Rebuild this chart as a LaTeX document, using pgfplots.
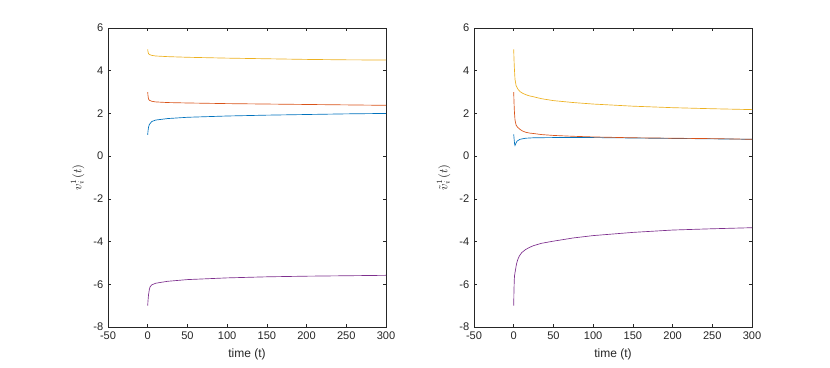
\documentclass[border=0pt]{standalone}
\usepackage{pgfplots}
\pgfplotsset{compat=1.18}
\usepackage{fontspec}
\setmainfont{Liberation Sans}
\definecolor{mblue}{HTML}{0072BD}
\definecolor{mred}{HTML}{D95319}
\definecolor{myellow}{HTML}{EDB120}
\definecolor{mpurple}{HTML}{7E2F8E}
\definecolor{axgray}{HTML}{262626}
\pgfplotsset{
  mlaxis/.style={
    scale only axis, width=208.5pt, height=224.25pt,
    xmin=-50, xmax=300, ymin=-8, ymax=6,
    xtick={-50,0,...,300}, ytick={-8,-6,...,6},
    axis line style={axgray, line width=0.4pt},
    tick style={axgray, line width=0.4pt},
    tick align=inside, major tick length=2.5pt,
    tick label style={font=\fontsize{8.3}{10}\selectfont, text=axgray},
    label style={font=\fontsize{9}{11}\selectfont, text=axgray},
    /pgf/number format/assume math mode=true,
    xlabel={time (t)},
    every axis plot/.append style={line width=0.5pt},
    clip=true,
  }
}
\begin{document}
\begin{tikzpicture}[x=1pt,y=1pt]
\path[use as bounding box] (0,0) rectangle (622.5,-275.25);
% left panel
\begin{axis}[mlaxis, at={(81pt,-245.25pt)}, anchor=south west, ylabel={$v_i^1(t)$}]
\addplot[mblue] coordinates {(0,1.0) (0.3,1.15) (1,1.35) (2,1.48) (5,1.62) (10,1.69) (25,1.76) (50,1.82) (100,1.88) (150,1.92) (200,1.95) (250,1.98) (300,2.0)};
\addplot[mred] coordinates {(0,3.0) (0.3,2.85) (1,2.68) (2,2.62) (5,2.57) (10,2.54) (25,2.51) (50,2.49) (100,2.46) (150,2.44) (200,2.42) (250,2.40) (300,2.38)};
\addplot[myellow] coordinates {(0,5.0) (0.3,4.9) (1,4.8) (2,4.76) (5,4.72) (10,4.69) (25,4.66) (50,4.63) (100,4.59) (150,4.56) (200,4.53) (250,4.51) (300,4.50)};
\addplot[mpurple] coordinates {(0,-7.0) (0.3,-6.8) (1,-6.5) (2,-6.25) (3,-6.12) (5,-6.03) (10,-5.95) (25,-5.86) (50,-5.78) (100,-5.70) (150,-5.65) (200,-5.62) (250,-5.60) (300,-5.58)};
\end{axis}
% right panel
\begin{axis}[mlaxis, at={(355.5pt,-245.25pt)}, anchor=south west, ylabel={$\tilde{v}_i^1(t)$}]
\addplot[mblue] coordinates {(0,1.02) (0.5,0.8) (1,0.6) (1.6,0.5) (2.5,0.58) (4,0.7) (8,0.79) (15,0.84) (25,0.86) (50,0.87) (100,0.87) (150,0.85) (200,0.83) (250,0.81) (300,0.79)};
\addplot[mred] coordinates {(0,3.0) (0.3,2.6) (0.7,2.2) (1,2.0) (1.6,1.7) (3,1.45) (5,1.35) (8,1.25) (11,1.18) (15,1.12) (20,1.08) (25,1.06) (35,1.01) (50,0.97) (75,0.93) (100,0.90) (150,0.86) (200,0.84) (250,0.82) (300,0.79)};
\addplot[myellow] coordinates {(0,5.0) (0.3,4.6) (0.7,4.2) (1,4.0) (1.6,3.6) (3,3.3) (5,3.15) (8,3.02) (11,2.95) (15,2.88) (20,2.82) (25,2.78) (35,2.69) (50,2.60) (75,2.51) (100,2.44) (150,2.34) (200,2.27) (250,2.22) (300,2.18)};
\addplot[mpurple] coordinates {(0,-7.0) (0.3,-6.3) (0.7,-5.8) (1,-5.6) (2,-5.37) (3.5,-5.05) (5,-4.85) (7,-4.68) (10,-4.52) (15,-4.37) (20,-4.27) (25,-4.19) (35,-4.08) (50,-3.98) (75,-3.83) (100,-3.72) (150,-3.57) (200,-3.46) (250,-3.40) (300,-3.35)};
\end{axis}
\end{tikzpicture}
\end{document}
